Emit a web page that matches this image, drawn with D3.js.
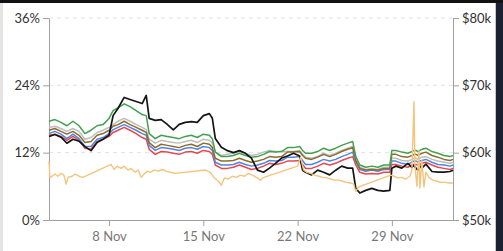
<!DOCTYPE html>
<html>
<head>
<meta charset="utf-8">
<script src="https://cdn.jsdelivr.net/npm/d3@7"></script>
<style>
    body { margin: 0; background: #fff; overflow: hidden; }
    svg text { font-family: Lato, "Open Sans", sans-serif; }
    .axis path, .axis line { stroke: #a0a0a0; }
    .axis text { font-size: 13px; }
    .y-left text, .y-right text { fill: #333; }
    .x text { fill: #777; }
</style>
</head>
<body>
<div id="chart"></div>
<script>
    //-------------------------- data start --------------------------
    // day of November (fractional), 33.54 = 3 Dec 13:00
    var days = [3.54, 3.98, 4.43, 4.87, 5.32, 5.77, 6.21, 6.66, 7.11, 7.55,
        8.0, 8.30, 8.67, 9.12, 9.56, 10.01, 10.46, 10.76, 10.98, 11.43,
        11.87, 12.32, 12.77, 13.21, 13.66, 14.11, 14.55, 15.0, 15.45, 15.67,
        15.89, 16.34, 16.79, 17.23, 17.68, 18.13, 18.57, 19.02, 19.47, 19.91,
        20.36, 20.81, 21.25, 21.70, 22.15, 22.37, 22.59, 23.04, 23.49, 23.93,
        24.38, 24.83, 25.27, 25.72, 26.09, 26.32, 26.62, 27.06, 27.51, 27.96,
        28.40, 28.85, 29.00, 29.30, 29.74, 30.19, 30.49, 30.64, 30.79, 30.93,
        31.08, 31.23, 31.53, 31.98, 32.42, 32.87, 33.32, 33.54];

    // price, right axis
    var price = [62400, 62700, 62300, 61400, 62000, 61700, 60900, 60300, 61500, 62000,
        62600, 65500, 66600, 68200, 67900, 67600, 67300, 68500, 65100, 64800,
        64900, 64200, 63400, 64200, 64500, 64600, 64500, 65500, 65800, 65100,
        62100, 60800, 60300, 60000, 60300, 59900, 59200, 57400, 57100, 57700,
        58400, 59200, 59500, 59900, 59500, 57400, 57100, 56700, 57400, 57100,
        56700, 57400, 58000, 57700, 57700, 54700, 54000, 54400, 54700, 54400,
        54300, 54400, 57700, 58000, 57700, 58400, 57800, 58100, 57700, 57400,
        58000, 57700, 58300, 57200, 57100, 57100, 57200, 57400];

    // percentages, left axis
    var greenVals = [17.6, 17.9, 17.4, 16.8, 17.6, 16.8, 15.4, 16.0, 16.8, 17.0,
        18.1, 19.5, 20.0, 20.7, 20.2, 19.5, 18.8, 18.6, 15.4, 14.5,
        15.1, 14.9, 14.7, 14.5, 14.9, 15.1, 14.7, 15.3, 15.1, 14.5,
        12.1, 11.3, 11.3, 11.5, 11.9, 11.5, 11.2, 11.3, 11.7, 12.2,
        12.1, 12.2, 12.9, 12.9, 13.1, 12.4, 11.9, 11.9, 12.2, 12.8,
        12.4, 12.8, 13.3, 13.7, 14.0, 11.3, 9.8, 9.4, 9.6, 9.4,
        9.8, 9.8, 12.4, 12.4, 12.1, 11.9, 12.2, 12.4, 12.4, 12.2,
        12.4, 12.6, 12.8, 12.2, 11.9, 11.5, 11.3, 11.5];
    var grayVals = [16.5, 16.7, 16.3, 15.8, 16.3, 15.8, 14.4, 14.7, 15.6, 16.0,
        16.5, 17.0, 17.6, 18.1, 17.6, 17.0, 16.5, 16.1, 14.4, 13.7,
        14.2, 14.0, 13.8, 13.7, 14.0, 14.2, 13.8, 14.4, 14.2, 13.7,
        12.1, 11.5, 11.7, 11.9, 12.2, 11.9, 11.5, 11.7, 12.1, 12.4,
        12.2, 12.2, 12.2, 12.2, 12.4, 11.7, 11.2, 11.0, 11.3, 11.9,
        11.5, 11.9, 12.4, 12.8, 13.1, 10.8, 9.4, 9.0, 9.2, 9.0,
        9.4, 9.4, 11.0, 11.0, 10.6, 10.5, 10.8, 11.0, 11.0, 10.8,
        11.0, 11.2, 11.3, 10.8, 10.5, 10.3, 10.1, 10.3];
    var brownVals = [16.0, 16.3, 15.8, 15.3, 15.8, 15.1, 13.8, 14.0, 15.1, 15.4,
        16.0, 16.7, 17.0, 17.6, 17.0, 16.5, 16.0, 15.6, 13.8, 12.9,
        13.5, 13.3, 13.1, 12.9, 13.3, 13.5, 13.1, 13.7, 13.5, 12.9,
        11.0, 10.5, 10.5, 10.6, 11.0, 10.6, 10.3, 10.5, 10.8, 11.3,
        11.2, 11.3, 12.1, 12.1, 12.2, 11.5, 11.0, 10.8, 11.2, 11.7,
        11.3, 11.7, 12.2, 12.6, 12.9, 10.6, 9.2, 8.9, 9.0, 8.9,
        9.2, 9.2, 11.7, 11.7, 11.3, 11.2, 11.5, 11.7, 11.7, 11.5,
        11.7, 11.9, 12.1, 11.5, 11.2, 10.8, 10.6, 10.8];
    var blueVals = [15.4, 15.8, 15.3, 14.5, 15.3, 14.5, 13.1, 13.1, 14.4, 14.7,
        15.4, 16.1, 16.5, 17.0, 16.5, 16.0, 15.4, 15.1, 13.3, 12.4,
        12.9, 12.8, 12.6, 12.4, 12.8, 12.9, 12.6, 13.1, 12.9, 12.4,
        10.3, 9.8, 9.8, 9.9, 10.3, 9.9, 9.6, 9.8, 10.1, 10.6,
        10.5, 10.6, 11.2, 11.2, 11.3, 10.6, 9.9, 9.9, 10.3, 10.8,
        10.5, 10.8, 11.3, 11.7, 12.1, 10.3, 9.0, 8.7, 8.9, 8.7,
        9.0, 9.0, 10.5, 10.5, 10.1, 9.9, 10.3, 10.5, 10.5, 10.3,
        10.5, 10.6, 10.8, 10.3, 9.9, 9.8, 9.6, 9.8];
    var redVals = [15.1, 15.3, 14.9, 14.2, 14.9, 14.2, 12.8, 12.6, 14.0, 14.4,
        14.9, 15.6, 16.0, 16.5, 16.0, 15.4, 14.7, 14.4, 12.6, 11.7,
        12.2, 12.1, 11.9, 11.7, 12.1, 12.2, 11.9, 12.4, 12.2, 11.7,
        9.8, 9.2, 9.2, 9.4, 9.8, 9.4, 9.0, 9.2, 9.6, 10.1,
        9.9, 10.1, 10.5, 10.5, 10.6, 9.9, 9.2, 9.2, 9.6, 10.1,
        9.8, 10.1, 10.6, 11.0, 11.3, 9.8, 8.5, 8.2, 8.3, 8.2,
        8.5, 8.5, 9.9, 9.9, 9.6, 9.4, 9.8, 9.9, 9.9, 9.8,
        9.9, 10.1, 10.3, 9.8, 9.4, 9.2, 9.0, 9.2];

    // tan series has gaps, own time stamps
    var tanDays = [3.54, 3.61, 3.76, 3.98, 4.20, 4.43, 4.65, 4.81, 4.96, 5.26,
        5.47, 5.77, 6.06, 8.15, 8.37, 8.60, 8.89, 9.12, 9.41, 9.64,
        9.94, 10.16, 10.38, 10.61, 10.83, 11.05, 11.35, 11.65, 11.95, 12.24,
        12.54, 12.91, 15.15, 15.52, 15.82, 16.12, 16.34, 16.56, 16.86, 17.16,
        17.46, 17.75, 18.05, 18.35, 18.65, 18.95, 19.24, 19.39, 22.00, 22.22,
        22.45, 22.67, 22.97, 23.26, 23.56, 23.86, 24.16, 24.46, 24.75, 25.05,
        25.35, 25.65, 25.95, 26.17, 26.32, 26.54, 28.92, 29.15, 29.44, 29.74,
        30.04, 30.34, 30.49, 30.64, 30.71, 30.86, 31.01, 31.08, 31.23, 31.38,
        31.53, 31.75, 32.05, 32.35, 32.65, 32.94, 33.24, 33.54];
    var tanVals = [10.5, 7.5, 7.8, 8.2, 7.8, 8.3, 8.0, 6.4, 7.6, 7.8,
        8.2, 7.8, 7.6, 9.9, 9.0, 9.6, 9.2, 9.6, 8.9, 9.2,
        8.5, 8.9, 7.6, 8.2, 8.7, 8.5, 8.9, 8.7, 9.0, 8.7,
        8.5, 8.3, 8.9, 8.5, 7.5, 6.9, 6.2, 7.5, 7.3, 7.8,
        7.6, 8.0, 7.8, 8.3, 8.0, 7.6, 7.1, 7.5, 9.6, 11.2,
        8.9, 8.5, 8.3, 8.0, 7.8, 7.6, 7.5, 7.3, 7.1, 7.1,
        6.9, 6.7, 6.6, 6.4, 5.1, 5.9, 8.0, 7.8, 7.5, 7.6,
        7.3, 7.8, 8.9, 21.1, 9.8, 6.0, 12.4, 5.7, 10.6, 5.9,
        8.5, 7.6, 7.1, 6.9, 6.7, 6.7, 6.6, 6.6];

    var pctTicks = [0, 12, 24, 36];
    var usdTicks = [50000, 60000, 70000, 80000];
    var dateTicks = [8, 15, 22, 29];
    //-------------------------- data end --------------------------

    var options = {
        width: 503,
        height: 251,
        margins: {
            left: 49,
            right: 50,
            top: 18,
            bottom: 31
        }
    };
    var margins = options.margins;
    var width = options.width - margins.left - margins.right;
    var height = options.height - margins.top - margins.bottom;

    function toDate(d) {
        return new Date(Date.UTC(2021, 10, 1) + (d - 1) * 864e5);
    }

    var root = d3.select("#chart")
        .append("svg")
        .attr("width", options.width)
        .attr("height", options.height);

    // page frame bits around the card
    root.append("rect").attr("x", 0).attr("y", 0).attr("width", 3).attr("height", options.height).attr("fill", "#e4e4e4");
    root.append("rect").attr("x", 495).attr("y", 0).attr("width", 1).attr("height", options.height).attr("fill", "#c8c8c8");
    root.append("rect").attr("x", 496).attr("y", 0).attr("width", 7).attr("height", options.height).attr("fill", "#1b2130");
    root.append("rect").attr("x", 0).attr("y", 0).attr("width", options.width).attr("height", 3).attr("fill", "#121212");

    var svg = root.append("g")
        .attr("transform", "translate(" + margins.left + "," + margins.top + ")");

    var x = d3.scaleUtc().domain([toDate(days[0]), toDate(days[days.length - 1])]).range([0, width]);
    var yPct = d3.scaleLinear().domain([0, 36]).range([height, 0]);
    var yUsd = d3.scaleLinear().domain([50000, 80000]).range([height, 0]);

    // dashed grid
    svg.selectAll(".grid")
        .data(pctTicks.filter(function (d) { return d > 0; }))
        .join("line")
        .attr("class", "grid")
        .attr("x1", 0)
        .attr("x2", width)
        .attr("y1", function (d) { return yPct(d); })
        .attr("y2", function (d) { return yPct(d); })
        .attr("stroke", "#e2e2e2")
        .attr("stroke-dasharray", "4,4");

    // axes
    svg.append("g")
        .attr("class", "x axis")
        .attr("transform", "translate(0," + height + ")")
        .call(d3.axisBottom(x)
            .tickValues(dateTicks.map(toDate))
            .tickSizeOuter(0)
            .tickPadding(6)
            .tickFormat(d3.utcFormat("%-d %b")));
    svg.append("g")
        .attr("class", "y-left axis")
        .call(d3.axisLeft(yPct)
            .tickValues(pctTicks)
            .tickSizeOuter(0)
            .tickFormat(function (d) { return d + "%"; }));
    svg.append("g")
        .attr("class", "y-right axis")
        .attr("transform", "translate(" + width + ",0)")
        .call(d3.axisRight(yUsd)
            .tickValues(usdTicks)
            .tickSizeOuter(0)
            .tickFormat(function (d) { return "$" + (d / 1000) + "k"; }));

    var seriesList = [
        { name: "red", color: "#e8474c", values: redVals, w: 1.5 },
        { name: "blue", color: "#4f86e6", values: blueVals, w: 1.5 },
        { name: "gray", color: "#bdbdbd", values: grayVals, w: 1.5 },
        { name: "brown", color: "#8c6d2c", values: brownVals, w: 1.5 },
        { name: "green", color: "#43a052", values: greenVals, w: 1.5 }
    ];

    seriesList.forEach(function (item) {
        var linePath = d3.line()
            .x(function (d, i) { return x(toDate(days[i])); })
            .y(function (d) { return yPct(d); });
        svg.append("path")
            .datum(item.values)
            .attr("class", "line-path-" + item.name)
            .attr("d", linePath)
            .attr("fill", "none")
            .attr("stroke", item.color)
            .attr("stroke-width", item.w)
            .attr("stroke-linejoin", "round");
    });

    // price line on the right axis
    var priceLine = d3.line()
        .x(function (d, i) { return x(toDate(days[i])); })
        .y(function (d) { return yUsd(d); });
    svg.append("path")
        .datum(price)
        .attr("d", priceLine)
        .attr("fill", "none")
        .attr("stroke", "#151515")
        .attr("stroke-width", 1.7)
        .attr("stroke-linejoin", "round");

    var tanLine = d3.line()
        .x(function (d, i) { return x(toDate(tanDays[i])); })
        .y(function (d) { return yPct(d); });
    svg.append("path")
        .datum(tanVals)
        .attr("d", tanLine)
        .attr("fill", "none")
        .attr("stroke", "#f3c47c")
        .attr("stroke-width", 1.4)
        .attr("stroke-linejoin", "round");
</script>
</body>
</html>
